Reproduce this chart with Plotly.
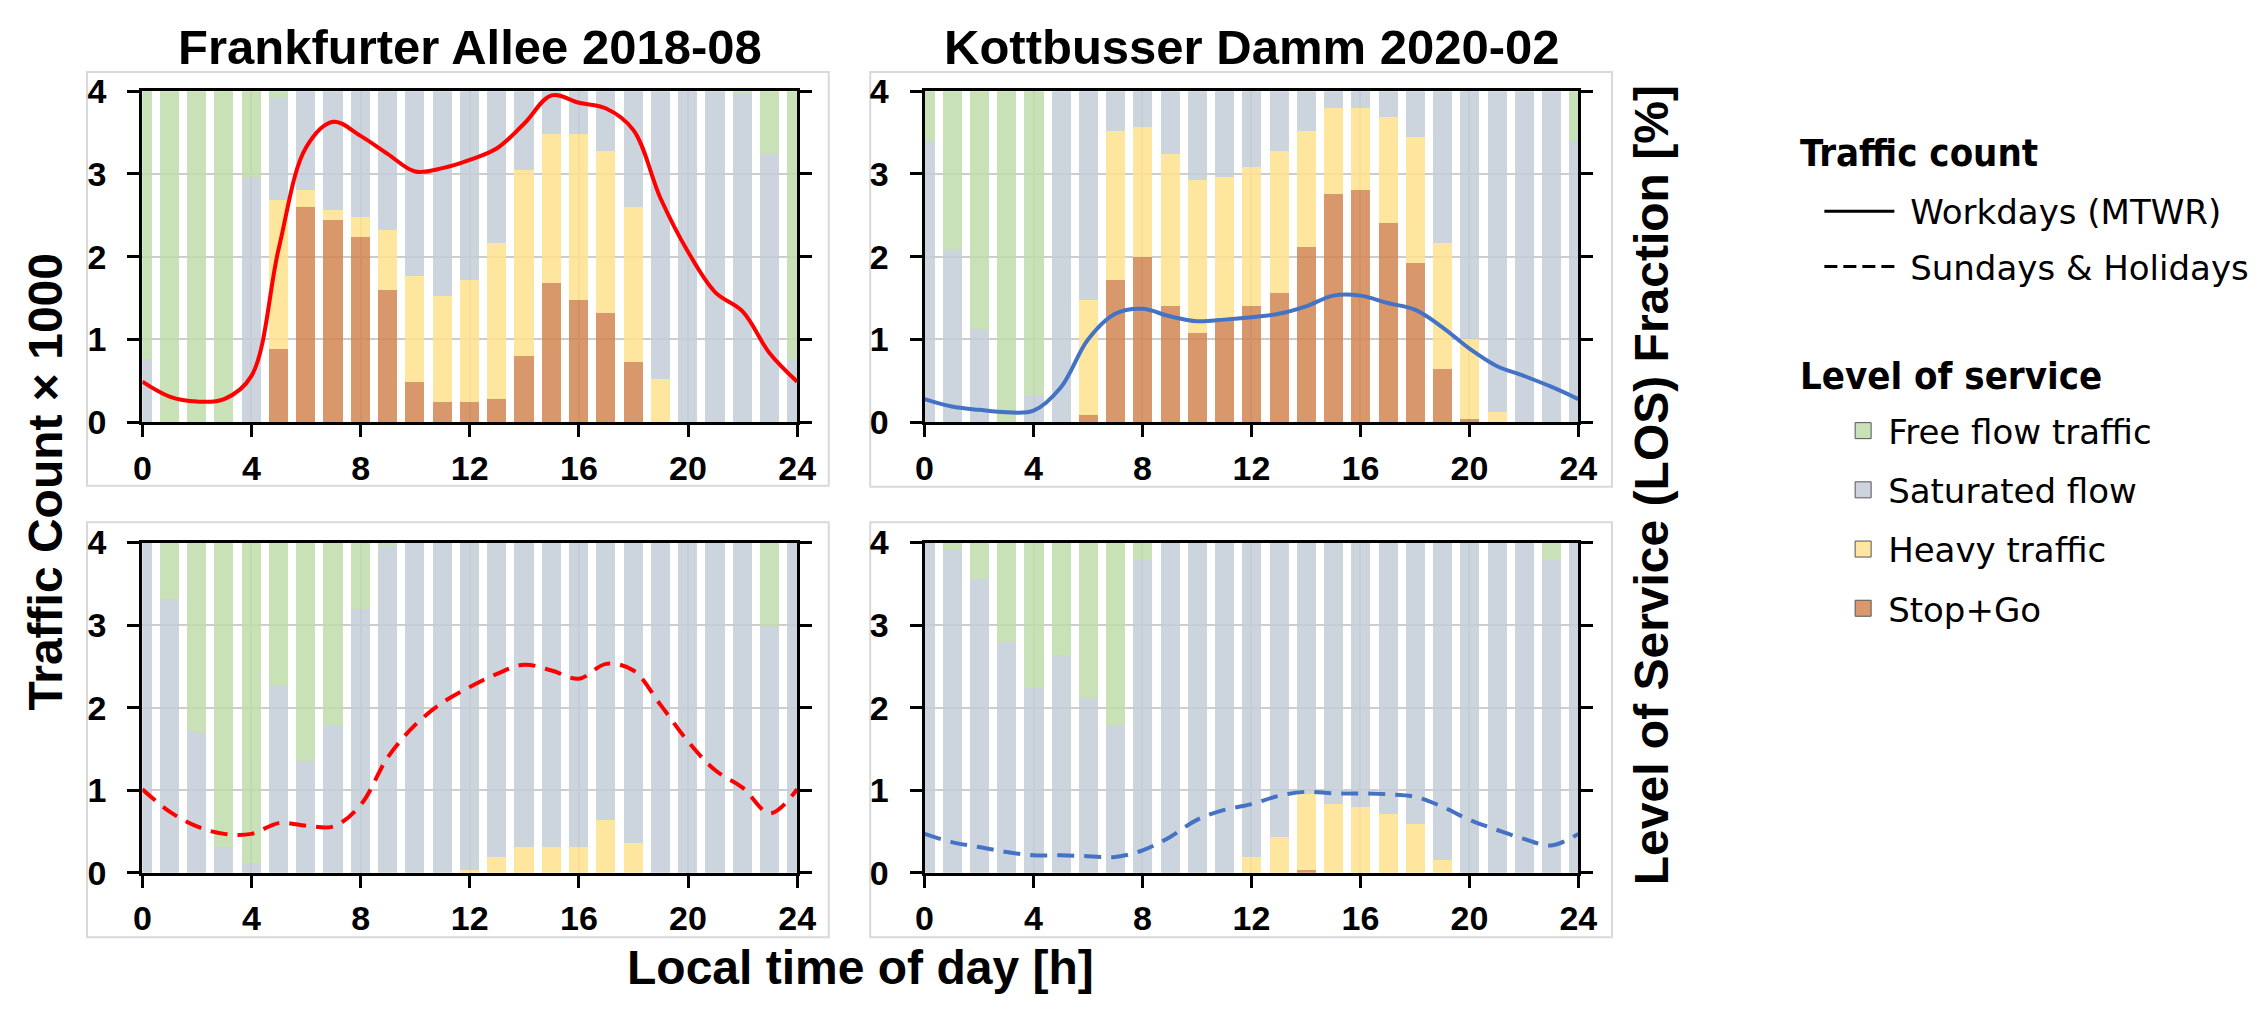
import plotly.graph_objects as go

# ---------------------------------------------------------------- data
HOURS = list(range(25))  # hour 24 repeats hour 0 so the day wraps round

# Level-of-service shares per hour [%]
FA_WD_STOPGO = [0, 0, 0, 0, 0, 22, 65, 61, 56, 40, 12, 6, 6, 7, 20, 42, 37, 33, 18, 0, 0, 0, 0, 0, 0]
FA_WD_HEAVY = [0, 0, 0, 0, 0, 45, 5, 3, 6, 18, 32, 32, 37, 47, 56, 45, 50, 49, 47, 13, 0, 0, 0, 0, 0]
FA_WD_SATURATED = [19, 0, 0, 0, 74, 31, 30, 36, 38, 42, 56, 62, 57, 46, 24, 13, 13, 18, 35, 87, 100, 100, 99, 81, 19]
FA_WD_FREE = [81, 100, 100, 100, 26, 2, 0, 0, 0, 0, 0, 0, 0, 0, 0, 0, 0, 0, 0, 0, 0, 0, 1, 19, 81]

KD_WD_STOPGO = [0, 0, 0, 0, 0, 0, 2, 43, 50, 35, 27, 31, 35, 39, 53, 69, 70, 60, 48, 16, 1, 0, 0, 0, 0]
KD_WD_HEAVY = [0, 0, 0, 0, 0, 0, 35, 45, 39, 46, 46, 43, 42, 43, 35, 26, 25, 32, 38, 38, 24, 3, 0, 0, 0]
KD_WD_SATURATED = [85, 52, 28, 0, 8, 100, 63, 12, 11, 19, 27, 26, 23, 18, 12, 5, 5, 8, 14, 46, 75, 97, 100, 100, 85]
KD_WD_FREE = [15, 48, 72, 100, 92, 0, 0, 0, 0, 0, 0, 0, 0, 0, 0, 0, 0, 0, 0, 0, 0, 0, 0, 0, 15]

FA_SH_STOPGO = [0] * 25
FA_SH_HEAVY = [0, 0, 0, 0, 0, 0, 0, 0, 0, 0, 0, 0, 1, 5, 8, 8, 8, 16, 9, 0, 0, 0, 0, 0, 0]
FA_SH_SATURATED = [100, 83, 43, 8, 3, 57, 34, 45, 80, 99, 100, 100, 99, 95, 92, 92, 92, 84, 91, 100, 100, 100, 100, 75, 100]
FA_SH_FREE = [0, 17, 57, 92, 97, 43, 66, 55, 20, 1, 0, 0, 0, 0, 0, 0, 0, 0, 0, 0, 0, 0, 0, 25, 0]

KD_SH_STOPGO = [0, 0, 0, 0, 0, 0, 0, 0, 0, 0, 0, 0, 0, 0, 1, 0, 0, 0, 0, 0, 0, 0, 0, 0, 0]
KD_SH_HEAVY = [0, 0, 0, 0, 0, 0, 0, 0, 0, 0, 0, 0, 5, 11, 23, 21, 20, 18, 15, 4, 0, 0, 0, 0, 0]
KD_SH_SATURATED = [100, 98, 89, 70, 56, 66, 53, 45, 95, 100, 100, 100, 95, 89, 76, 79, 80, 82, 85, 96, 100, 100, 100, 95, 100]
KD_SH_FREE = [0, 2, 11, 30, 44, 34, 47, 55, 5, 0, 0, 0, 0, 0, 0, 0, 0, 0, 0, 0, 0, 0, 0, 5, 0]

# Hourly traffic counts (x 1000)
FA_WD_COUNT = [0.49, 0.31, 0.25, 0.28, 0.56, 2.10, 3.32, 3.63, 3.46, 3.24, 3.03, 3.07, 3.17,
               3.31, 3.61, 3.95, 3.86, 3.79, 3.53, 2.70, 2.06, 1.57, 1.34, 0.83, 0.49]
KD_WD_COUNT = [0.28, 0.19, 0.15, 0.12, 0.14, 0.42, 1.00, 1.31, 1.37, 1.28, 1.22, 1.24, 1.27,
               1.31, 1.40, 1.53, 1.53, 1.44, 1.36, 1.15, 0.89, 0.68, 0.56, 0.43, 0.28]
FA_SH_COUNT = [1.01, 0.74, 0.56, 0.47, 0.47, 0.60, 0.57, 0.56, 0.82, 1.40, 1.79, 2.06, 2.25,
               2.41, 2.52, 2.45, 2.35, 2.53, 2.45, 2.03, 1.59, 1.24, 1.03, 0.72, 1.01]
KD_SH_COUNT = [0.47, 0.37, 0.31, 0.25, 0.21, 0.21, 0.20, 0.19, 0.27, 0.43, 0.64, 0.76, 0.83,
               0.93, 0.98, 0.96, 0.96, 0.95, 0.92, 0.80, 0.64, 0.52, 0.41, 0.33, 0.47]

PANEL_TITLES = ["Frankfurter Allee 2018-08", "Kottbusser Damm 2020-02"]
LOS_NAMES = ["Stop+Go", "Heavy traffic", "Saturated flow", "Free flow traffic"]
COUNT_NAMES = ["Workdays (MTWR)", "Sundays & Holidays"]
X_TICKS = [0, 4, 8, 12, 16, 20, 24]
COUNT_TICKS = [0, 1, 2, 3, 4]

# ---------------------------------------------------------------- style
W, H = 2267, 1011
BAR_COLORS = ["#D38752", "#FFE28F", "#C4CDD9", "#BFDCAB"]     # drawn at 0.85 opacity
KEY_COLORS = ["#DA996C", "#FFE6A0", "#CDD4DF", "#C9E1B8"]
RED, BLUE = "#FF0000", "#4472C4"
GRID = "#cdcdcd"
BOLD = dict(family="Liberation Sans, Arial, sans-serif", weight="bold", color="black")
KEY_FONT = "DejaVu Sans, Verdana, sans-serif"
KEY_TITLE_FONT = "DejaVu Sans Condensed, DejaVu Sans, sans-serif"
NBSP = "\u00a0"


def px_x(p):
    return p / W


def px_y(p):
    return 1 - p / H


# plot areas in pixels: (left, right, top, bottom)
AREAS = [
    (135, 798, 75, 419),
    (927, 1589, 75, 419),
    (135, 798, 544, 887),
    (927, 1589, 544, 887),
]
FRAMES = [
    (79, 830, 55, 485),
    (872, 1623, 55, 486),
    (79, 830, 523, 954),
    (872, 1623, 523, 954),
]

panels = [
    ((FA_WD_STOPGO, FA_WD_HEAVY, FA_WD_SATURATED, FA_WD_FREE), FA_WD_COUNT, RED, "solid"),
    ((KD_WD_STOPGO, KD_WD_HEAVY, KD_WD_SATURATED, KD_WD_FREE), KD_WD_COUNT, BLUE, "solid"),
    ((FA_SH_STOPGO, FA_SH_HEAVY, FA_SH_SATURATED, FA_SH_FREE), FA_SH_COUNT, RED, "17px,10px"),
    ((KD_SH_STOPGO, KD_SH_HEAVY, KD_SH_SATURATED, KD_SH_FREE), KD_SH_COUNT, BLUE, "17px,10px"),
]

fig = go.Figure()
layout = {}

for i, (los, count, color, dash) in enumerate(panels):
    n = i + 1
    xa = "x" if n == 1 else f"x{n}"
    ya_pct = "y" if n == 1 else f"y{2 * n - 1}"
    ya_cnt = f"y{2 * n}"

    for share, name, c in zip(los, LOS_NAMES, BAR_COLORS):
        fig.add_trace(go.Bar(
            x=HOURS, y=share, name=name, marker=dict(color=c, line=dict(width=0)),
            opacity=0.85, width=0.7, xaxis=xa, yaxis=ya_pct, showlegend=False,
            hoverinfo="skip",
        ))
    fig.add_trace(go.Scatter(
        x=HOURS, y=count, mode="lines", line=dict(color=color, width=4, dash=dash, shape="spline"),
        xaxis=xa, yaxis=ya_cnt, showlegend=False,
    ))

    left, right, top, bottom = AREAS[i]
    xkey = "xaxis" if n == 1 else f"xaxis{n}"
    ykey_pct = "yaxis" if n == 1 else f"yaxis{2 * n - 1}"
    ykey_cnt = f"yaxis{2 * n}"
    layout[xkey] = dict(
        domain=[px_x(left), px_x(right)], anchor=ya_pct, range=[0, 24],
        tickvals=X_TICKS, ticks="outside", ticklen=12, tickwidth=3, tickcolor="black",
        showline=True, linewidth=3, linecolor="black", mirror=True,
        showgrid=True, gridcolor=GRID, gridwidth=1.5, zeroline=False,
        tickfont=dict(size=34, **BOLD), ticklabelstandoff=2,
    )
    layout[ykey_pct] = dict(
        domain=[px_y(bottom), px_y(top)], anchor=xa, side="right", range=[0, 100],
        tickvals=[0, 25, 50, 75, 100], ticks="outside", ticklen=12, tickwidth=3,
        tickcolor="black", showticklabels=False, showline=True, linewidth=3,
        linecolor="black", showgrid=True, gridcolor=GRID, gridwidth=1.5, zeroline=False,
    )
    layout[ykey_cnt] = dict(
        overlaying=ya_pct, anchor=xa, side="left", range=[0, 4], tickvals=COUNT_TICKS,
        ticks="outside", ticklen=12, tickwidth=3, tickcolor="black",
        showline=True, linewidth=3, linecolor="black", showgrid=False, zeroline=False,
        tickfont=dict(size=34, **BOLD), ticklabelstandoff=14,
    )

# legend entries: traffic count line styles
for name, dash in zip(COUNT_NAMES, ["solid", "13px,6px"]):
    fig.add_trace(go.Scatter(
        x=[None], y=[None], mode="lines", name=NBSP + name, legend="legend",
        legendgroup=name, line=dict(color="black", width=3, dash=dash), xaxis="x", yaxis="y2",
    ))
# legend entries: level of service colours, top class first
for name, c in list(zip(LOS_NAMES, KEY_COLORS))[::-1]:
    fig.add_trace(go.Scatter(
        x=[None], y=[None], mode="markers", name=name, legend="legend2", legendgroup=name,
        marker=dict(symbol="square", size=16, color=c, line=dict(color="#555555", width=1)),
        xaxis="x", yaxis="y2",
    ))

shapes = [
    dict(type="rect", xref="paper", yref="paper", x0=px_x(l), x1=px_x(r), y0=px_y(b), y1=px_y(t),
         line=dict(color="#d9d9d9", width=2), fillcolor="rgba(0,0,0,0)", layer="below")
    for (l, r, t, b) in FRAMES
]

annotations = []
for k, title in enumerate(PANEL_TITLES):
    left, right, _, _ = AREAS[k]
    annotations.append(dict(
        text=title, x=px_x((left + right) / 2), y=px_y(29), xref="paper", yref="paper",
        showarrow=False, xanchor="center", yanchor="middle", font=dict(size=49, **BOLD),
    ))
annotations += [
    dict(text="Traffic Count × 1000", x=px_x(37), y=px_y(481), xref="paper", yref="paper",
         textangle=-90, showarrow=False, xanchor="center", yanchor="middle",
         font=dict(size=48, **BOLD)),
    dict(text="Level of Service (LOS) Fraction [%]", x=px_x(1663), y=px_y(484), xref="paper",
         yref="paper", textangle=-90, showarrow=False, xanchor="center", yanchor="middle",
         font=dict(size=48, **BOLD)),
    dict(text="Local time of day [h]", x=px_x(862), y=px_y(986), xref="paper", yref="paper",
         showarrow=False, xanchor="center", yanchor="middle", font=dict(size=48, **BOLD)),
    dict(text="<b>Traffic count</b>", x=px_x(1811), y=px_y(139), xref="paper", yref="paper",
         showarrow=False, xanchor="left", yanchor="middle",
         font=dict(family=KEY_TITLE_FONT, size=38, color="black")),
    dict(text="<b>Level of service</b>", x=px_x(1811), y=px_y(371), xref="paper", yref="paper",
         showarrow=False, xanchor="left", yanchor="middle",
         font=dict(family=KEY_TITLE_FONT, size=38, color="black")),
]

fig.update_layout(
    width=W, height=H, margin=dict(l=0, r=0, t=0, b=0),
    paper_bgcolor="white", plot_bgcolor="white",
    barmode="stack", bargap=0, showlegend=True,
    shapes=shapes, annotations=annotations,
    legend=dict(
        x=px_x(1833), y=px_y(170), xanchor="left", yanchor="top",
        font=dict(family=KEY_FONT, size=34, color="black"),
        itemwidth=70, tracegroupgap=8, traceorder="grouped", bgcolor="rgba(0,0,0,0)",
    ),
    legend2=dict(
        x=px_x(1852), y=px_y(398), xanchor="left", yanchor="top",
        font=dict(family=KEY_FONT, size=34, color="black"),
        itemwidth=40, tracegroupgap=12, traceorder="grouped", bgcolor="rgba(0,0,0,0)",
    ),
    **layout,
)

fig.write_html("out.html")
